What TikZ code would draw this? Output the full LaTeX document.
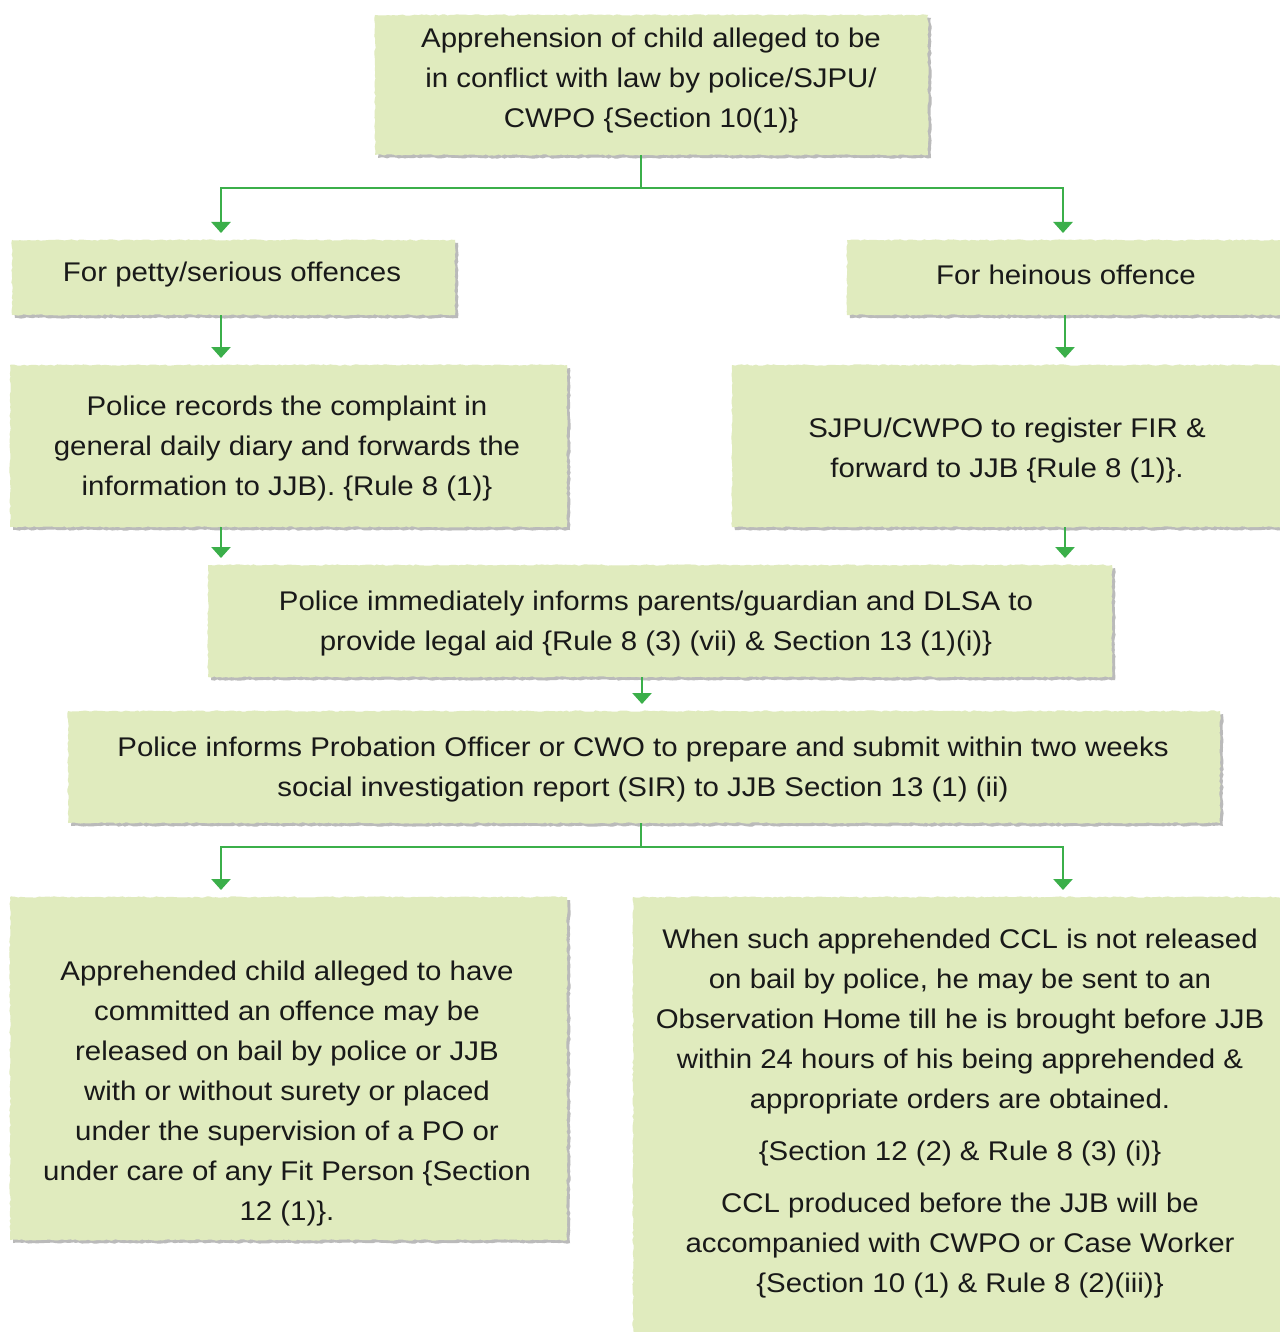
\documentclass[tikz,border=0pt]{standalone}
\usepackage{fontspec}
\setmainfont{Liberation Sans}[FakeStretch=1.09]
\usetikzlibrary{arrows.meta,shadows,decorations.pathmorphing}
\definecolor{boxfill}{RGB}{224,235,190}
\definecolor{arrowgreen}{RGB}{59,175,74}
\begin{document}
\begin{tikzpicture}[x=1pt,y=-1pt,
  box/.style={fill=boxfill, draw=none, inner sep=0pt, outer sep=0pt, anchor=north west,
    decorate, decoration={random steps, segment length=3pt, amplitude=0.7pt},
    drop shadow={shadow xshift=3pt, shadow yshift=-3pt, opacity=0.45, fill=black!60}},
  txt/.style={align=center, inner sep=0pt, text=black!90, font=\fontsize{27}{40}\selectfont},
  line/.style={draw=arrowgreen, line width=2.6pt},
  arr/.style={line, -{Triangle[width=19pt,length=11pt]}, shorten >=7pt}]
\useasboundingbox (0,0) rectangle (1279,1332);
\fill[white] (0,0) rectangle (1279,1332);
% boxes
\node[box, minimum width=553pt, minimum height=140pt] (b1) at (375,15) {};
\node[box, minimum width=443pt, minimum height=75pt] (b2) at (12,240) {};
\node[box, minimum width=440pt, minimum height=75pt] (b3) at (847,240) {};
\node[box, minimum width=557pt, minimum height=162pt] (b4) at (10,365) {};
\node[box, minimum width=555pt, minimum height=162pt] (b5) at (732,365) {};
\node[box, minimum width=904pt, minimum height=112pt] (b6) at (208,565) {};
\node[box, minimum width=1152pt, minimum height=112pt] (b7) at (68,711) {};
\node[box, minimum width=557pt, minimum height=343pt] (b8) at (10,897) {};
\node[box, minimum width=655pt, minimum height=445pt] (b9) at (633,897) {};
% texts
\node[txt] (t1) at (651,81) {Apprehension of child alleged to be\\ in conflict with law by police/SJPU/\\ CWPO \{Section 10(1)\}};
\node[txt] (t2) at (232,275) {For petty/serious offences};
\node[txt] (t3) at (1066,275) {For heinous offence};
\node[txt] (t4) at (287,449) {Police records the complaint in\\ general daily diary and forwards the\\ information to JJB). \{Rule 8 (1)\}};
\node[txt] (t5) at (1007,451) {SJPU/CWPO to register FIR \&\\ forward to JJB \{Rule 8 (1)\}.};
\node[txt] (t6) at (656,624) {Police immediately informs parents/guardian and DLSA to\\ provide legal aid \{Rule 8 (3) (vii) \& Section 13 (1)(i)\}};
\node[txt] (t7) at (643,770) {Police informs Probation Officer or CWO to prepare and submit within two weeks\\ social investigation report (SIR) to JJB Section 13 (1) (ii)};
\node[txt] (t8) at (287,1094) {Apprehended child alleged to have\\ committed an offence may be\\ released on bail by police or JJB\\ with or without surety or placed\\ under the supervision of a PO or\\ under care of any Fit Person \{Section\\ 12 (1)\}.};
\node[txt] (t9) at (960,1114) {When such apprehended CCL is not released\\ on bail by police, he may be sent to an\\ Observation Home till he is brought before JJB\\ within 24 hours of his being apprehended \&\\ appropriate orders are obtained.\\[12pt] \{Section 12 (2) \& Rule 8 (3) (i)\}\\[12pt] CCL produced before the JJB will be\\ accompanied with CWPO or Case Worker\\ \{Section 10 (1) \& Rule 8 (2)(iii)\}};
% connector coordinates
\coordinate (s1) at (641,188);
\coordinate (xl) at (221,0);
\coordinate (xr) at (1063,0);
\coordinate (xr2) at (1065,0);
\coordinate (xm) at (642,0);
\coordinate (s2) at (641,847);
% connectors
\draw[line] (b1.south -| s1) -- (s1);
\draw[arr] (s1) -| (b2.north -| xl);
\draw[arr] (s1) -| (b3.north -| xr);
\draw[arr] (b2.south -| xl) -- (b4.north -| xl);
\draw[arr] (b3.south -| xr2) -- (b5.north -| xr2);
\draw[arr] (b4.south -| xl) -- (b6.north -| xl);
\draw[arr] (b5.south -| xr2) -- (b6.north -| xr2);
\draw[arr] (b6.south -| xm) -- (b7.north -| xm);
\draw[line] (b7.south -| s2) -- (s2);
\draw[arr] (s2) -| (b8.north -| xl);
\draw[arr] (s2) -| (b9.north -| xr);
\end{tikzpicture}
\end{document}
